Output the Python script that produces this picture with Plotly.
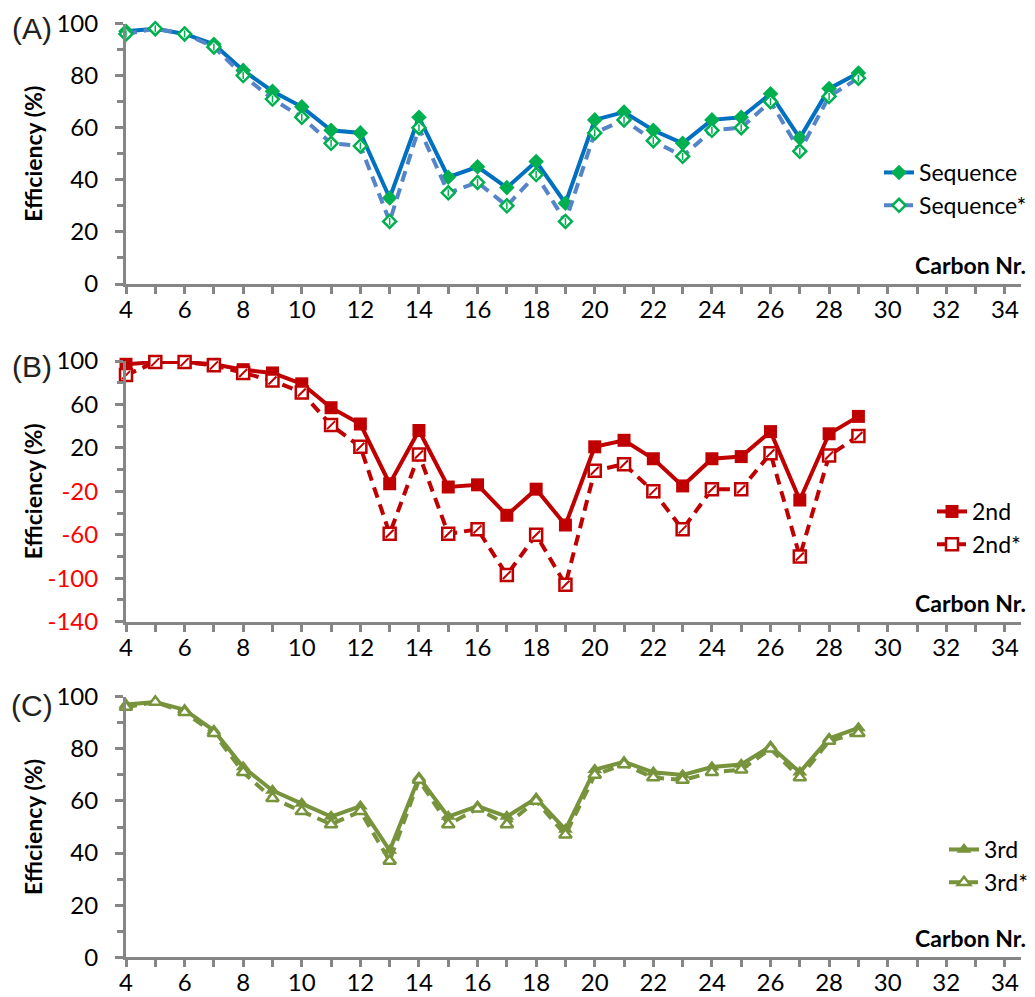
import plotly.graph_objects as go

W, H = 1035, 997

carbon = list(range(4, 30))

seq = [97, 98, 96, 92, 82, 74, 68, 59, 58, 33, 64, 41, 45, 37, 47, 31,
       63, 66, 59, 54, 63, 64, 73, 56, 75, 81]
seq_star = [96, 98, 96, 91, 80, 71, 64, 54, 53, 24, 60, 35, 39, 30, 42, 24,
            58, 63, 55, 49, 59, 60, 70, 51, 72, 79]

second = [97, 99, 99, 97, 92, 89, 79, 57, 42, -13, 36, -16, -14, -42, -18, -51,
          21, 27, 10, -15, 10, 12, 35, -28, 33, 49]
second_star = [87, 99, 99, 96, 89, 82, 71, 41, 21, -59, 14, -59, -55, -97, -60, -106,
               -1, 5, -20, -55, -18, -18, 15, -80, 13, 31]

third = [97, 98, 95, 87, 73, 64, 59, 54, 58, 41, 69, 54, 58, 54, 61, 49,
         72, 75, 71, 70, 73, 74, 81, 71, 84, 88]
third_star = [96, 98, 94, 86, 71, 61, 56, 51, 56, 37, 68, 51, 57, 51, 60, 47,
              70, 74, 69, 68, 71, 72, 80, 69, 83, 86]

yticks_a = [0, 20, 40, 60, 80, 100]
yticks_b = [-140, -100, -60, -20, 20, 60, 100]
yticks_c = [0, 20, 40, 60, 80, 100]

BLUE = "#0070C0"
BLUE_D = "#5585C8"
GREEN_MK = "#00B050"
RED = "#C00000"
OLIVE = "#77933C"
AXIS = "#868686"

FONT = "Lato"


def px_x(p):
    return p / W


def px_y(p):
    return 1 - p / H


fig = go.Figure()

# Panel A: sequence efficiency
fig.add_trace(go.Scatter(x=carbon, y=seq, name="Sequence", mode="lines+markers",
                         line=dict(color=BLUE, width=4),
                         marker=dict(symbol="diamond", size=12, color=GREEN_MK),
                         xaxis="x", yaxis="y", legend="legend", cliponaxis=False))
fig.add_trace(go.Scatter(x=carbon, y=seq_star, name="Sequence*", mode="lines+markers",
                         line=dict(color=BLUE_D, width=4, dash="11px,7px"),
                         marker=dict(symbol="diamond", size=10, color="white",
                                     line=dict(color=GREEN_MK, width=2.5)),
                         xaxis="x", yaxis="y", legend="legend", cliponaxis=False))
fig.add_trace(go.Scatter(x=carbon, y=seq_star, mode="markers", showlegend=False,
                         hoverinfo="skip",
                         marker=dict(symbol="line-ns", size=5,
                                     line=dict(color=GREEN_MK, width=1.5)),
                         xaxis="x", yaxis="y", cliponaxis=False))

# Panel B: second step
fig.add_trace(go.Scatter(x=carbon, y=second, name="2nd", mode="lines+markers",
                         line=dict(color=RED, width=4),
                         marker=dict(symbol="square", size=13, color=RED),
                         xaxis="x2", yaxis="y2", legend="legend2", cliponaxis=False))
fig.add_trace(go.Scatter(x=carbon, y=second_star, name="2nd*", mode="lines+markers",
                         line=dict(color=RED, width=4, dash="11px,7px"),
                         marker=dict(symbol="square", size=12, color="white",
                                     line=dict(color=RED, width=2.5)),
                         xaxis="x2", yaxis="y2", legend="legend2", cliponaxis=False))
fig.add_trace(go.Scatter(x=carbon, y=second_star, mode="markers", showlegend=False,
                         hoverinfo="skip",
                         marker=dict(symbol="line-ne", size=8,
                                     line=dict(color=RED, width=2)),
                         xaxis="x2", yaxis="y2", cliponaxis=False))

# Panel C: third step
fig.add_trace(go.Scatter(x=carbon, y=third, name="3rd", mode="lines+markers",
                         line=dict(color=OLIVE, width=4),
                         marker=dict(symbol="triangle-up", size=13, color=OLIVE),
                         xaxis="x3", yaxis="y3", legend="legend3", cliponaxis=False))
fig.add_trace(go.Scatter(x=carbon, y=third_star, name="3rd*", mode="lines+markers",
                         line=dict(color=OLIVE, width=4, dash="11px,7px"),
                         marker=dict(symbol="triangle-up", size=11, color="white",
                                     line=dict(color=OLIVE, width=2.5)),
                         xaxis="x3", yaxis="y3", legend="legend3", cliponaxis=False))

tickfont = dict(family=FONT, size=24, color="black")


def xaxis_cfg(anchor):
    return dict(range=[4, 34.55], domain=[px_x(126), px_x(1021)], anchor=anchor,
                automargin=False,
                tickmode="linear", tick0=4, dtick=2,
                ticks="outside", ticklen=7, tickwidth=2.5, tickcolor=AXIS,
                minor=dict(tick0=4, dtick=1, ticks="outside", ticklen=7,
                           tickwidth=2.5, tickcolor=AXIS, showgrid=False),
                showline=True, linecolor=AXIS, linewidth=3,
                showgrid=False, zeroline=False, tickfont=tickfont,
                ticklabelstandoff=-5)


def yaxis_cfg(anchor, rng, top, bottom, vals, texts, minor_dtick):
    return dict(range=rng, domain=[px_y(bottom), px_y(top)], anchor=anchor,
                automargin=False,
                tickmode="array", tickvals=vals, ticktext=texts,
                ticks="outside", ticklen=8, tickwidth=2.5, tickcolor=AXIS,
                minor=dict(tick0=rng[0], dtick=minor_dtick, ticks="outside",
                           ticklen=6, tickwidth=2.5, tickcolor=AXIS, showgrid=False),
                showline=True, linecolor=AXIS, linewidth=3,
                showgrid=False, zeroline=False, tickfont=tickfont,
                ticklabelstandoff=12)


def label(v):
    s = str(v)
    return f'<span style="color:#FF0000">{s}</span>' if v < 0 else s


legend_font = dict(family=FONT, size=23, color="black")

fig.update_layout(
    width=W, height=H,
    margin=dict(l=0, r=0, t=0, b=0, autoexpand=False),
    paper_bgcolor="white", plot_bgcolor="white",
    xaxis=xaxis_cfg("y"),
    xaxis2=xaxis_cfg("y2"),
    xaxis3=xaxis_cfg("y3"),
    yaxis=yaxis_cfg("x", [0, 100], 23.5, 284, yticks_a, [str(v) for v in yticks_a], 10),
    yaxis2=yaxis_cfg("x2", [-140, 100], 361, 621.7, yticks_b, [label(v) for v in yticks_b], 20),
    yaxis3=yaxis_cfg("x3", [0, 100], 696.7, 957.3, yticks_c, [str(v) for v in yticks_c], 10),
    showlegend=True,
    legend=dict(x=px_x(879), y=px_y(151), xanchor="left", yanchor="top",
                bgcolor="rgba(0,0,0,0)", font=legend_font),
    legend2=dict(x=px_x(932), y=px_y(490), xanchor="left", yanchor="top",
                 bgcolor="rgba(0,0,0,0)", font=legend_font),
    legend3=dict(x=px_x(944), y=px_y(828), xanchor="left", yanchor="top",
                 bgcolor="rgba(0,0,0,0)", font=legend_font),
)

annotations = []
for letter, cy, ytop, ybot in [("(A)", 29, 23.5, 284), ("(B)", 367, 361, 621.7),
                               ("(C)", 705, 696.7, 957.3)]:
    annotations.append(dict(text=letter, x=px_x(32), y=px_y(cy), xref="paper", yref="paper",
                            showarrow=False, xanchor="center", yanchor="middle",
                            font=dict(family="Liberation Sans", size=30, color="#222222")))
    annotations.append(dict(text="<b>Efficiency (%)</b>", x=px_x(33), y=px_y((ytop + ybot) / 2),
                            xref="paper", yref="paper", showarrow=False, textangle=-90,
                            xanchor="center", yanchor="middle",
                            font=dict(family=FONT, size=23, color="black")))
    annotations.append(dict(text="<b>Carbon Nr.</b>", x=px_x(1028), y=px_y(ybot - 19),
                            xref="paper", yref="paper", showarrow=False,
                            xanchor="right", yanchor="middle",
                            font=dict(family=FONT, size=23, color="black")))
fig.update_layout(annotations=annotations)

fig.write_html("out.html")
